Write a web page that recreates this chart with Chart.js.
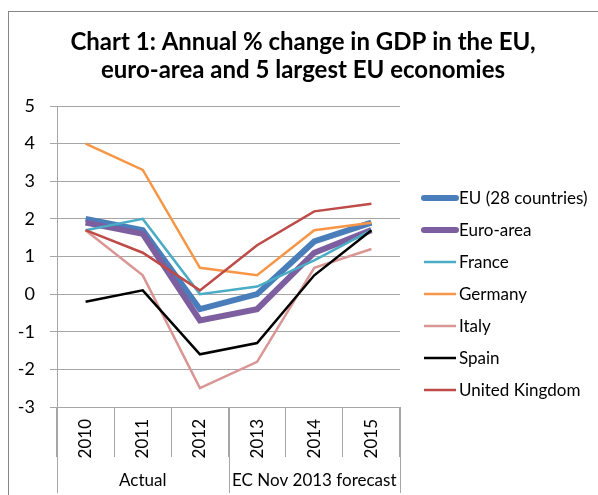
<!DOCTYPE html>
<html>
<head>
<meta charset="utf-8">
<script src="https://cdn.jsdelivr.net/npm/chart.js@4.4.0/dist/chart.umd.min.js"></script>
<style>
  html, body { margin: 0; padding: 0; background: #fff; }
  #wrap { width: 598px; height: 495px; }
</style>
</head>
<body>
<div id="wrap"><canvas id="gdpChart" width="598" height="495"></canvas></div>
<script>
const titleLines = ['Chart 1: Annual % change in GDP in the EU,', 'euro-area and 5 largest EU economies'];
const years = ['2010', '2011', '2012', '2013', '2014', '2015'];
const groupLabels = ['Actual', 'EC Nov 2013 forecast'];
const groupSpans = [3, 3];
const yTicks = [-3, -2, -1, 0, 1, 2, 3, 4, 5];

const seriesNames = ['EU (28 countries)', 'Euro-area', 'France', 'Germany', 'Italy', 'Spain', 'United Kingdom'];
const eu28 = [2.0, 1.7, -0.4, 0.0, 1.4, 1.9];
const euroArea = [1.9, 1.6, -0.7, -0.4, 1.1, 1.7];
const france = [1.7, 2.0, 0.0, 0.2, 0.9, 1.7];
const germany = [4.0, 3.3, 0.7, 0.5, 1.7, 1.9];
const italy = [1.7, 0.5, -2.5, -1.8, 0.7, 1.2];
const spain = [-0.2, 0.1, -1.6, -1.3, 0.5, 1.7];
const uk = [1.7, 1.1, 0.1, 1.3, 2.2, 2.4];

const seriesData = [eu28, euroArea, france, germany, italy, spain, uk];
const colors = ['#4a7ebb', '#7d5fa0', '#4bacc6', '#f79646', '#d99694', '#000000', '#be4b48'];
const widths = [6, 6, 2.5, 2.5, 2.5, 2.5, 2.5];

const FONT = 'Lato, "Open Sans", sans-serif';
const gridColor = '#a6a6a6';

// extra bits Excel draws: outer frame, title, long group dividers, group labels, legend
const excelBits = {
  id: 'excelBits',
  beforeDraw(chart) {
    const c = chart.ctx;
    c.save();
    c.strokeStyle = '#868686';
    c.lineWidth = 1;
    c.strokeRect(8.5, 11.5, 700, 700);
    c.fillStyle = '#000';
    c.font = 'bold 24px ' + FONT;
    c.textAlign = 'center';
    c.textBaseline = 'alphabetic';
    titleLines.forEach((t, i) => c.fillText(t, 303, 50 + i * 28));
    c.restore();
  },
  afterDraw(chart) {
    const c = chart.ctx;
    const x = chart.scales.x;
    const area = chart.chartArea;
    const step = x.getPixelForValue(1) - x.getPixelForValue(0);
    c.save();
    c.strokeStyle = gridColor;
    c.lineWidth = 1;
    let start = 0;
    const edges = [x.getPixelForValue(0) - step / 2];
    groupSpans.forEach(n => {
      start += n;
      edges.push(x.getPixelForValue(start - 1) + step / 2);
    });
    edges.forEach(px => {
      const xx = Math.round(px) + 0.5;
      c.beginPath();
      c.moveTo(xx, area.bottom);
      c.lineTo(xx, 493);
      c.stroke();
    });
    c.fillStyle = '#000';
    c.font = '17px ' + FONT;
    c.textAlign = 'center';
    c.textBaseline = 'middle';
    groupLabels.forEach((lab, i) => {
      c.fillText(lab, (edges[i] + edges[i + 1]) / 2, 481);
    });

    // legend
    c.textAlign = 'left';
    c.font = '17px ' + FONT;
    chart.data.datasets.forEach((ds, i) => {
      const y = 198 + i * 32;
      c.strokeStyle = ds.borderColor;
      c.lineWidth = ds.borderWidth;
      c.lineCap = ds.borderWidth > 4 ? 'round' : 'butt';
      c.beginPath();
      c.moveTo(424, y);
      c.lineTo(456, y);
      c.stroke();
      c.fillStyle = '#000';
      c.fillText(ds.label, 459, y + 1);
    });
    c.restore();
  }
};

const datasets = seriesNames.map((name, i) => ({
  label: name,
  data: seriesData[i],
  borderColor: colors[i],
  backgroundColor: colors[i],
  borderWidth: widths[i],
  pointRadius: 0,
  tension: 0,
  order: seriesNames.length - i
}));

const ctx = document.getElementById('gdpChart').getContext('2d');
const gdpChart = new Chart(ctx, {
  type: 'line',
  data: { labels: years, datasets: datasets },
  plugins: [excelBits],
  options: {
    responsive: false,
    animation: false,
    layout: { padding: { left: 10, right: 10, top: 106, bottom: 0 } },
    plugins: {
      legend: { display: false },
      tooltip: { enabled: false },
      title: { display: false }
    },
    scales: {
      x: {
        offset: true,
        grid: { offset: true, drawOnChartArea: false, tickLength: 50, color: gridColor },
        border: { color: gridColor },
        ticks: {
          maxRotation: 90, minRotation: 90, padding: -38,
          color: '#000', font: { family: FONT, size: 17 }
        },
        afterFit: s => { s.height = 88; }
      },
      y: {
        min: -3, max: 5,
        afterBuildTicks: s => { s.ticks = yTicks.map(v => ({ value: v })); },
        grid: { color: gridColor, tickLength: 7 },
        border: { color: gridColor },
        ticks: { padding: 15, color: '#000', font: { family: FONT, size: 18 } },
        afterFit: s => { s.width = 47; }
      },
      // empty right-hand axis that only reserves room for the legend
      legendRoom: {
        position: 'right',
        grid: { display: false },
        border: { display: false },
        ticks: { display: false },
        afterFit: s => { s.width = 188; }
      }
    }
  }
});
</script>
</body>
</html>
